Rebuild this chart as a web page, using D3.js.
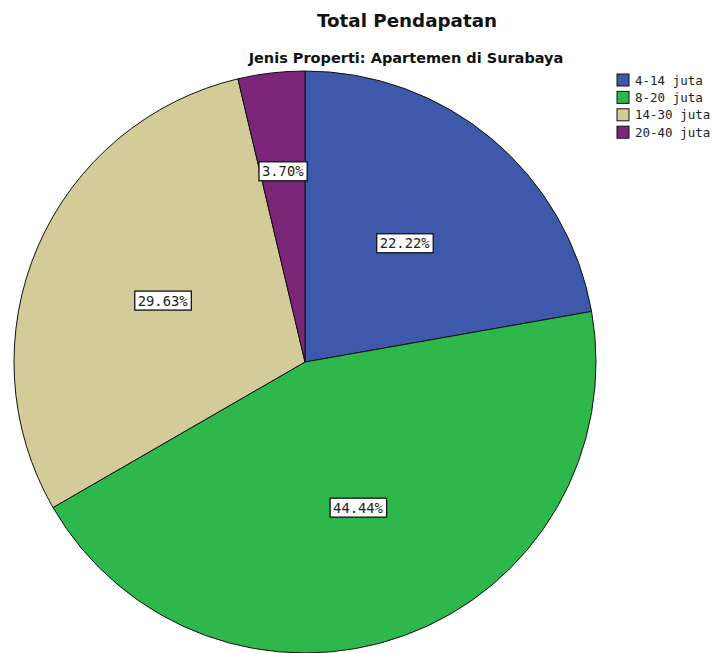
<!DOCTYPE html>
<html><head><meta charset="utf-8">
<script src="https://cdn.jsdelivr.net/npm/d3@7/dist/d3.min.js"></script>
<style>body{margin:0;background:#fff}svg{display:block}</style>
</head><body>
<svg id="chart" width="714" height="653"></svg>
<script>
const categories = ["4-14 juta", "8-20 juta", "14-30 juta", "20-40 juta"];
const values = [22.22, 44.44, 29.63, 3.70];
const colors = ["#3e58ac", "#2eb84b", "#d4cc98", "#7b2679"];
const title = "Total Pendapatan";
const subtitle = "Jenis Properti: Apartemen di Surabaya";

const svg = d3.select("#chart");
const cx = 305, cy = 362, r = 291;

svg.append("text").attr("x", 407).attr("y", 27).attr("text-anchor", "middle")
  .attr("font-family", "DejaVu Sans").attr("font-weight", "bold").attr("font-size", 18.3)
  .attr("fill", "#111").text(title);
svg.append("text").attr("x", 406).attr("y", 63).attr("text-anchor", "middle")
  .attr("font-family", "DejaVu Sans").attr("font-weight", "bold").attr("font-size", 14.5)
  .attr("fill", "#111").text(subtitle);

const pie = d3.pie().sort(null).value(d => d);
const arcs = pie(values);
const arc = d3.arc().innerRadius(0).outerRadius(r);
const color = d3.scaleOrdinal().domain(categories).range(colors);

const g = svg.append("g").attr("transform", `translate(${cx},${cy})`);
g.selectAll("path").data(arcs).enter().append("path")
  .attr("d", arc)
  .attr("fill", (d, i) => color(categories[i]))
  .attr("stroke", "#111").attr("stroke-width", 1);

const labelArc = d => {
  const lr = (d.endAngle - d.startAngle) < 0.5 ? 192 : 155;
  return d3.arc().innerRadius(lr).outerRadius(lr).centroid(d);
};
arcs.forEach((d, i) => {
  const [x, y] = labelArc(d);
  const txt = values[i].toFixed(2) + "%";
  const lg = g.append("g").attr("transform", `translate(${x},${y})`);
  const t = lg.append("text").attr("text-anchor", "middle").attr("dy", "0.36em")
    .attr("font-family", "DejaVu Sans Mono").attr("font-size", 13.8)
    .attr("fill", "#222").text(txt);
  const bb = t.node().getBBox();
  lg.insert("rect", "text").attr("x", bb.x - 3).attr("y", -9.5)
    .attr("width", bb.width + 6).attr("height", 19)
    .attr("fill", "#fff").attr("stroke", "#111").attr("stroke-width", 1.3);
});

const leg = svg.append("g").attr("transform", "translate(617,74)");
categories.forEach((c, i) => {
  const row = leg.append("g").attr("transform", `translate(0,${i * 17.4})`);
  row.append("rect").attr("width", 12).attr("height", 12)
    .attr("fill", color(c)).attr("stroke", "#111").attr("stroke-width", 1);
  row.append("text").attr("x", 18).attr("y", 10.5)
    .attr("font-family", "DejaVu Sans Mono").attr("font-size", 12.5)
    .attr("fill", "#222").text(c);
});
</script>
</body></html>
